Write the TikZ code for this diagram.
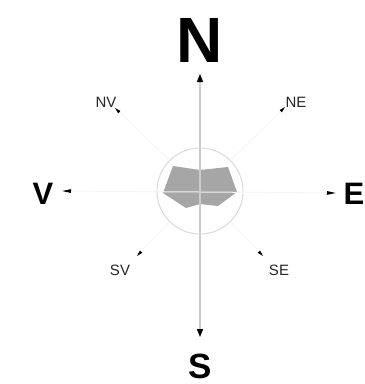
\documentclass[tikz,border=0pt]{standalone}
\usepackage{fontspec}
\setmainfont{Liberation Sans}
\usetikzlibrary{arrows.meta}
\begin{document}
\begin{tikzpicture}[x=1pt,y=-1pt,
  bigdir/.style={font=\bfseries, inner sep=0pt, text=black},
  smalldir/.style={font=\fontsize{15}{15}\selectfont, inner sep=0pt, text=black!85},
  mainaxis/.style={draw=black!20, line width=1.3pt,
     {Triangle[length=8pt,width=6pt,color=black]}-{Triangle[length=8pt,width=6pt,color=black]}},
  faintaxis/.style={draw=black!4, line width=1pt,
     {Triangle[length=9pt,width=3.5pt,color=black]}-{Triangle[length=9pt,width=3.5pt,color=black]}},
  diag/.style={draw=black!4, line width=0.8pt, -{Triangle[length=6pt,width=3pt,color=black]}},
  ring/.style={circle, draw=black!15, line width=1pt, minimum size=86pt, inner sep=0pt}
]
\useasboundingbox (0,0) rectangle (365,384);
\fill[white] (0,0) rectangle (365,384);

% labels
\node[bigdir, font=\bfseries\fontsize{64}{64}\selectfont] (N) at (200,40) {N};
\node[bigdir, font=\bfseries\fontsize{35}{35}\selectfont] (S) at (200,366) {S};
\node[bigdir, font=\bfseries\fontsize{31}{31}\selectfont] (V) at (43,194) {V};
\node[bigdir, font=\bfseries\fontsize{31}{31}\selectfont, anchor=east] (E) at (364.5,194) {E};
\node[smalldir] (NV) at (106,102) {NV};
\node[smalldir] (NE) at (296,102) {NE};
\node[smalldir] (SV) at (120,270) {SV};
\node[smalldir] (SE) at (279,270) {SE};

% tips
\coordinate (tN) at (200,74);
\coordinate (tS) at (200,337);
\coordinate (tV) at (62,191);
\coordinate (tE) at (336,193);
\coordinate (tNV) at (115,108);
\coordinate (tNE) at (285,107);
\coordinate (tSV) at (137,256);
\coordinate (tSE) at (263,256);

% ring
\node[ring] (c) at (200,191) {};

% gray shape
\fill[black!35] (173,166) -- (200,170) -- (228,167) -- (237,192) -- (218,206)
  -- (200,204) -- (186,208) -- (163,193) -- cycle;

% axes
\draw[faintaxis] (tV) -- (tE);
\draw[mainaxis] (tS) -- (tN);
\draw[diag] (c.135) -- (tNV);
\draw[diag] (c.45) -- (tNE);
\draw[diag] (c.-135) -- (tSV);
\draw[diag] (c.-45) -- (tSE);
\end{tikzpicture}
\end{document}
